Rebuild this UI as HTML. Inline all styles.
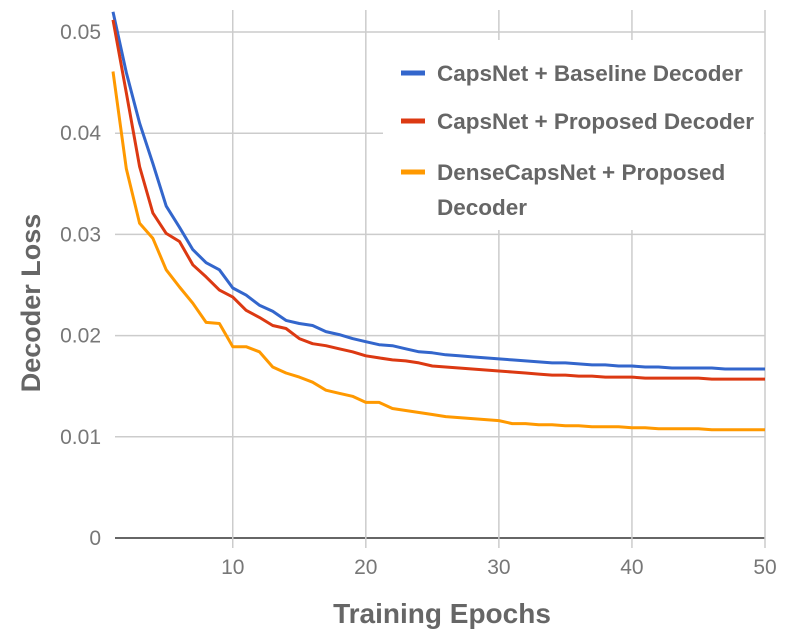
<!DOCTYPE html>
<html><head><meta charset="utf-8"><style>
body{margin:0;background:#fff;width:789px;height:636px;overflow:hidden}
svg{display:block;font-family:"Liberation Sans",sans-serif}
</style></head><body>
<svg id="chart" width="789" height="636" viewBox="0 0 789 636"></svg>
<script>
const epochs = Array.from({length:50},(_,i)=>i+1);
const blueValues = [.0520,.0460,.0410,.0370,.0328,.0307,.0285,.0272,.0265,.0247,.0240,.0230,.0224,.0215,.0212,.0210,.0204,.0201,.0197,.0194,.0191,.0190,.0187,.0184,.0183,.0181,.0180,.0179,.0178,.0177,.0176,.0175,.0174,.0173,.0173,.0172,.0171,.0171,.0170,.0170,.0169,.0169,.0168,.0168,.0168,.0168,.0167,.0167,.0167,.0167];
const redValues = [.0512,.0440,.0367,.0321,.0301,.0293,.0270,.0258,.0245,.0238,.0225,.0218,.0210,.0207,.0197,.0192,.0190,.0187,.0184,.0180,.0178,.0176,.0175,.0173,.0170,.0169,.0168,.0167,.0166,.0165,.0164,.0163,.0162,.0161,.0161,.0160,.0160,.0159,.0159,.0159,.0158,.0158,.0158,.0158,.0158,.0157,.0157,.0157,.0157,.0157];
const orangeValues = [.0461,.0365,.0311,.0296,.0265,.0248,.0232,.0213,.0212,.0189,.0189,.0184,.0169,.0163,.0159,.0154,.0146,.0143,.0140,.0134,.0134,.0128,.0126,.0124,.0122,.0120,.0119,.0118,.0117,.0116,.0113,.0113,.0112,.0112,.0111,.0111,.0110,.0110,.0110,.0109,.0109,.0108,.0108,.0108,.0108,.0107,.0107,.0107,.0107,.0107];
const yTicks = [0,0.01,0.02,0.03,0.04,0.05];
const yTickLabels = ["0","0.01","0.02","0.03","0.04","0.05"];
const xTicks = [10,20,30,40,50];
const seriesNames = ["CapsNet + Baseline Decoder","CapsNet + Proposed Decoder","DenseCapsNet + Proposed"];

const NS="http://www.w3.org/2000/svg";
const svg=document.getElementById('chart');
const X0=113,X1=765,Y0=538,Y1=32;
const xs=e=>X0+(e-1)*(X1-X0)/49;
const ys=v=>Y0-(v/0.05)*(Y0-Y1);
function mk(tag,attrs,parent){const el=document.createElementNS(NS,tag);for(const k in attrs)el.setAttribute(k,attrs[k]);(parent||svg).appendChild(el);return el;}

yTicks.forEach((t,i)=>{
  const g=mk('line',{x1:115,x2:765,y1:ys(t),y2:ys(t),stroke:i===0?'#333':'#ccc','stroke-width':1.5});
  
  
  const lb=mk('text',{x:101,y:ys(t)+7,'text-anchor':'end','font-size':21,fill:'#777'});
  lb.textContent=yTickLabels[i];
  
  
});
xTicks.forEach(t=>{
  const g=mk('line',{x1:xs(t),x2:xs(t),y1:10,y2:548,stroke:'#ccc','stroke-width':1.5});
  
  
  const lb=mk('text',{x:xs(t),y:574,'text-anchor':'middle','font-size':21,fill:'#777'});
  lb.textContent=String(t);
  
  
});
const colors=['#3366cc','#dc3912','#ff9900'];
[blueValues,redValues,orangeValues].forEach((vals,si)=>{
  const d=vals.map((v,i)=>(i?'L':'M')+xs(epochs[i]).toFixed(1)+','+ys(v).toFixed(1)).join('');
  const p=mk('path',{d:d,fill:'none',stroke:colors[si],'stroke-width':3,'stroke-linejoin':'round'});
  
  
});
const lg=mk('g',{});


mk('rect',{x:383,y:40,width:381,height:190,fill:'#fff'},lg);
const ly=[73,121,172];
seriesNames.forEach((n,i)=>{
  mk('line',{x1:401,x2:425,y1:ly[i],y2:ly[i],stroke:colors[i],'stroke-width':5},lg);
  const t=mk('text',{x:437,y:ly[i]+8,'font-size':22.5,'font-weight':'bold',fill:'#666'},lg);
  t.textContent=n;
  
  
});
const t2=mk('text',{x:437,y:215,'font-size':22.5,'font-weight':'bold',fill:'#666'},lg);
t2.textContent='Decoder';
const yt=mk('text',{x:0,y:0,transform:'translate(40,303) rotate(-90)','text-anchor':'middle','font-size':27,'font-weight':'bold',fill:'#666'});
yt.textContent='Decoder Loss';


const xt=mk('text',{x:442,y:623,'text-anchor':'middle','font-size':28,'font-weight':'bold',fill:'#666'});
xt.textContent='Training Epochs';


</script>
</body></html>
